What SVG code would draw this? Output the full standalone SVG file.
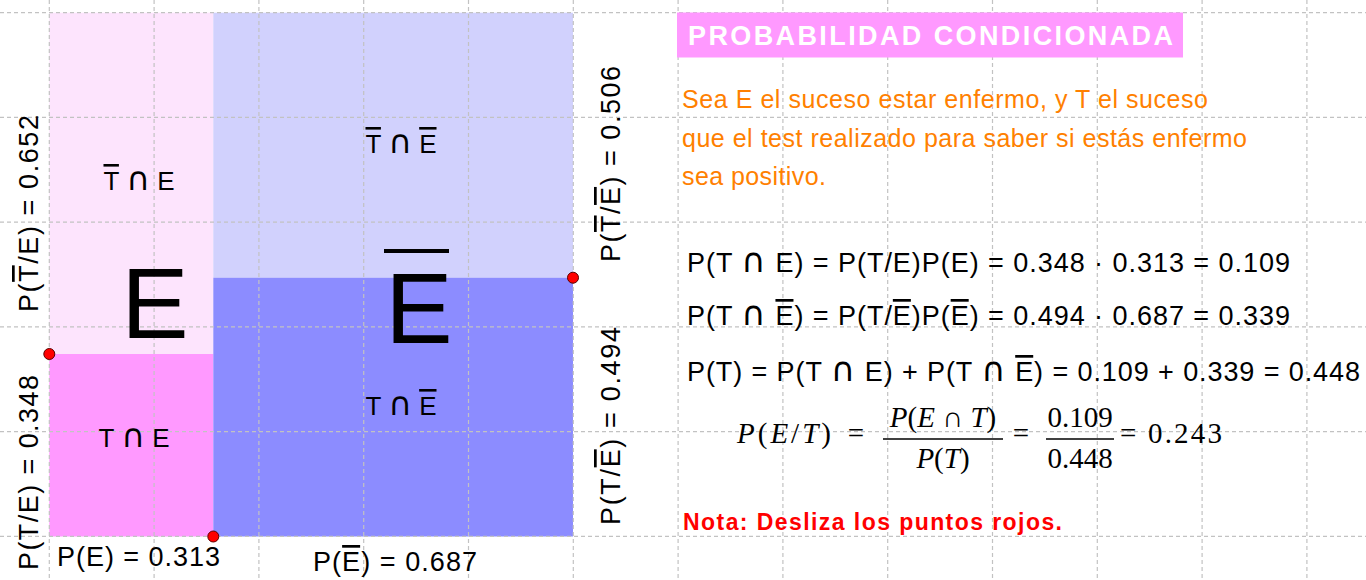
<svg xmlns="http://www.w3.org/2000/svg" width="1366" height="580" viewBox="0 0 1366 580">
<style>
.grid line{stroke:#c2c2c2;stroke-width:1.2;stroke-dasharray:4 3}
.s{font-family:"Liberation Sans",Arial,sans-serif;fill:#000}
.lab{font-size:26px}
.f{font-size:27px}
.ov{text-decoration:overline}
.cap{font-family:"DejaVu Sans",sans-serif;font-size:125%}
.serif{font-family:"Liberation Serif","Times New Roman",serif;font-size:29px;fill:#000}
.it{font-style:italic}
.pt{fill:#ff0000;stroke:#5a0000;stroke-width:1}
.orange{font-family:"Liberation Sans",Arial,sans-serif;font-size:25px;fill:#ff8000}
</style>
<rect width="1366" height="580" fill="#ffffff"/>
<g id="regions">
<rect x="49.3" y="12.7" width="164" height="341.3" fill="#fde4fd"/>
<rect x="49.3" y="354" width="164" height="182.5" fill="#ff99ff"/>
<rect x="213.3" y="12.7" width="359.7" height="265" fill="#d1d1fd"/>
<rect x="213.3" y="277.7" width="359.7" height="258.8" fill="#8c8cff"/>
</g>
<g class="grid" id="grid">
<line x1="49.3" y1="0" x2="49.3" y2="580"/>
<line x1="154.1" y1="0" x2="154.1" y2="580"/>
<line x1="258.9" y1="0" x2="258.9" y2="580"/>
<line x1="363.7" y1="0" x2="363.7" y2="580"/>
<line x1="468.5" y1="0" x2="468.5" y2="580"/>
<line x1="573.3" y1="0" x2="573.3" y2="580"/>
<line x1="678.1" y1="0" x2="678.1" y2="580"/>
<line x1="782.9" y1="0" x2="782.9" y2="580"/>
<line x1="887.7" y1="0" x2="887.7" y2="580"/>
<line x1="992.5" y1="0" x2="992.5" y2="580"/>
<line x1="1097.3" y1="0" x2="1097.3" y2="580"/>
<line x1="1202.1" y1="0" x2="1202.1" y2="580"/>
<line x1="1306.9" y1="0" x2="1306.9" y2="580"/>
<line x1="0" y1="12.7" x2="1366" y2="12.7"/>
<line x1="0" y1="117.45" x2="1366" y2="117.45"/>
<line x1="0" y1="222.2" x2="1366" y2="222.2"/>
<line x1="0" y1="326.95" x2="1366" y2="326.95"/>
<line x1="0" y1="431.7" x2="1366" y2="431.7"/>
<line x1="0" y1="536.45" x2="1366" y2="536.45"/>
</g>
<g id="region-labels">
<text class="s lab" x="139" y="190" text-anchor="middle"><tspan class="ov">T</tspan> <tspan class="cap">∩</tspan> E</text>
<text class="s lab" x="401" y="153" text-anchor="middle"><tspan class="ov">T</tspan> <tspan class="cap">∩</tspan> <tspan class="ov">E</tspan></text>
<text class="s lab" x="134" y="447" text-anchor="middle">T <tspan class="cap">∩</tspan> E</text>
<text class="s lab" x="401" y="415" text-anchor="middle">T <tspan class="cap">∩</tspan> <tspan class="ov">E</tspan></text>
<text class="s" x="155" y="338" font-size="101" text-anchor="middle">E</text>
<text class="s" x="419" y="343" font-size="101" text-anchor="middle">E</text>
<line x1="384" y1="251" x2="449" y2="251" stroke="#000" stroke-width="4"/>
</g>
<g id="axis-labels">
<text class="s f" transform="translate(38,312) rotate(-90)" textLength="197" lengthAdjust="spacing">P(<tspan class="ov">T</tspan>/E) = 0.652</text>
<text class="s f" transform="translate(38,570) rotate(-90)" textLength="195" lengthAdjust="spacing">P(T/E) = 0.348</text>
<text class="s f" transform="translate(620,262) rotate(-90)" textLength="196" lengthAdjust="spacing">P(<tspan class="ov">T</tspan>/<tspan class="ov">E</tspan>) = 0.506</text>
<text class="s f" transform="translate(620,525) rotate(-90)" textLength="198" lengthAdjust="spacing">P(T/<tspan class="ov">E</tspan>) = 0.494</text>
<text class="s f" x="57" y="566" textLength="163" lengthAdjust="spacing">P(E) = 0.313</text>
<text class="s f" x="313" y="571" textLength="164" lengthAdjust="spacing">P(<tspan class="ov">E</tspan>) = 0.687</text>
</g>
<g id="points">
<circle class="pt" cx="49.3" cy="354" r="5.5"/>
<circle class="pt" cx="213.3" cy="536.5" r="5.5"/>
<circle class="pt" cx="573" cy="277.7" r="5.5"/>
</g>
<g id="title">
<rect x="677" y="12.5" width="506" height="45" fill="#ff99ff"/>
<text x="688" y="45" font-family="'Liberation Sans',Arial,sans-serif" font-weight="bold" font-size="27" fill="#ffffff" textLength="485" lengthAdjust="spacing">PROBABILIDAD CONDICIONADA</text>
</g>
<g id="description">
<text class="orange" x="682" y="108" textLength="526" lengthAdjust="spacing">Sea E el suceso estar enfermo, y T el suceso</text>
<text class="orange" x="682" y="147" textLength="565" lengthAdjust="spacing">que el test realizado para saber si estás enfermo</text>
<text class="orange" x="682" y="185" textLength="144" lengthAdjust="spacing">sea positivo.</text>
</g>
<g id="formulas">
<text class="s f" x="687" y="272" textLength="603" lengthAdjust="spacing">P(T <tspan class="cap">∩</tspan> E) = P(T/E)P(E) = 0.348 · 0.313 = 0.109</text>
<text class="s f" x="687" y="325" textLength="603" lengthAdjust="spacing">P(T <tspan class="cap">∩</tspan> <tspan class="ov">E</tspan>) = P(T/<tspan class="ov">E</tspan>)P(<tspan class="ov">E</tspan>) = 0.494 · 0.687 = 0.339</text>
<text class="s f" x="687" y="381" textLength="673" lengthAdjust="spacing">P(T) = P(T <tspan class="cap">∩</tspan> E) + P(T <tspan class="cap">∩</tspan> <tspan class="ov">E</tspan>) = 0.109 + 0.339 = 0.448</text>
</g>
<g id="bayes">
<text class="serif" x="737" y="443" font-size="30" letter-spacing="3"><tspan class="it">P</tspan>(<tspan class="it">E</tspan>/<tspan class="it">T</tspan>)</text>
<text class="serif" x="856" y="443" text-anchor="middle">=</text>
<text class="serif" x="943" y="427" text-anchor="middle"><tspan class="it">P</tspan>(<tspan class="it">E</tspan> ∩ <tspan class="it">T</tspan>)</text>
<line x1="883" y1="439" x2="1003" y2="439" stroke="#000" stroke-width="1.5"/>
<text class="serif" x="943" y="468" text-anchor="middle"><tspan class="it">P</tspan>(<tspan class="it">T</tspan>)</text>
<text class="serif" x="1021" y="443" text-anchor="middle">=</text>
<text class="serif" x="1080" y="427" text-anchor="middle">0.109</text>
<line x1="1046" y1="439" x2="1114" y2="439" stroke="#000" stroke-width="1.5"/>
<text class="serif" x="1080" y="468" text-anchor="middle">0.448</text>
<text class="serif" x="1120" y="443" textLength="102" lengthAdjust="spacing">= 0.243</text>
</g>
<g id="note">
<text x="683" y="530" font-family="'Liberation Sans',Arial,sans-serif" font-weight="bold" font-size="23" fill="#ff0000" textLength="379" lengthAdjust="spacing">Nota: Desliza los puntos rojos.</text>
</g>
</svg>
